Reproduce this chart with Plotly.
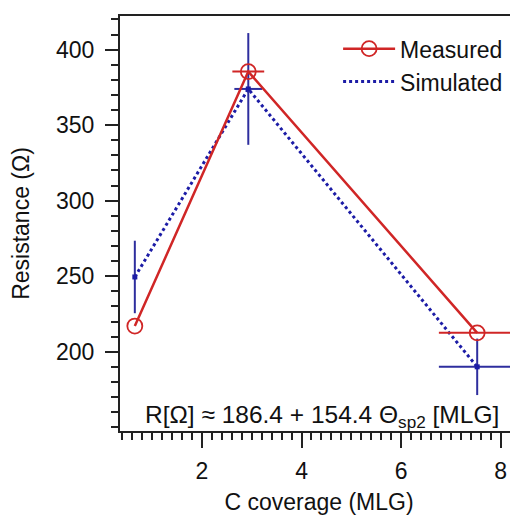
import plotly.graph_objects as go

# Data
coverage = [0.65, 2.93, 7.53]
measured = [217.0, 385.5, 212.5]
measured_xerr = [0.0, 0.32, 0.77]
sim_coverage = [0.65, 2.93, 7.53]
simulated = [249.5, 374.0, 190.0]
sim_xerr = [0.0, 0.28, 0.77]
sim_yerr = [24.0, 37.0, 18.7]

x_major = [2, 4, 6, 8]
x_medium = [1, 3, 5, 7]
y_major = [200, 250, 300, 350, 400]

RED = "#d02626"
BLUE_LINE = "#1c1ca6"
BLUE_ERR = "#2e2e9e"
AX = "#222222"
FONT = "Liberation Sans, Arial, sans-serif"

xr = [0.352, 8.35]
yr = [147.5, 422.3]

fig = go.Figure()

# Simulated: dotted line (legend entry)
fig.add_trace(go.Scatter(
    x=sim_coverage, y=simulated, mode="lines", name="Simulated",
    line=dict(color=BLUE_LINE, width=3, dash="dot"),
))
# Simulated: markers with error bars
fig.add_trace(go.Scatter(
    x=sim_coverage, y=simulated, mode="markers", showlegend=False,
    marker=dict(color=BLUE_LINE, size=5, symbol="square"),
    error_x=dict(type="data", array=sim_xerr, color=BLUE_ERR, thickness=2, width=0),
    error_y=dict(type="data", array=sim_yerr, color=BLUE_ERR, thickness=2, width=0),
))
# Measured
fig.add_trace(go.Scatter(
    x=coverage, y=measured, mode="lines+markers", name="Measured",
    line=dict(color=RED, width=2.5),
    marker=dict(symbol="circle-open", size=15, color=RED, line=dict(width=1.8, color=RED)),
    error_x=dict(type="data", array=measured_xerr, color=RED, thickness=2, width=0),
))

fig.add_annotation(
    x=0.508, y=0.036, xref="paper", yref="paper", xanchor="center", yanchor="middle",
    text="R[Ω] ≈ 186.4 + 154.4 Θ<sub>sp2</sub> [MLG]", showarrow=False,
    font=dict(family=FONT, size=24.5, color="#111111"),
)

fig.update_layout(
    width=510, height=507,
    margin=dict(l=112, r=0, t=8, b=80),
    paper_bgcolor="white", plot_bgcolor="white",
    font=dict(family=FONT, size=23, color="#111111"),
    showlegend=True,
    legend=dict(
        x=0.548, y=0.973, xanchor="left", yanchor="top",
        bgcolor="rgba(0,0,0,0)", traceorder="reversed",
        font=dict(family=FONT, size=23), itemwidth=52,
        tracegroupgap=0,
    ),
    xaxis=dict(
        range=xr, showgrid=False, zeroline=False,
        showline=True, linecolor=AX, linewidth=2, mirror=True,
        tickmode="array", tickvals=x_major, ticks="outside", ticklen=15,
        tickwidth=2, tickcolor=AX, ticklabelstandoff=3,
        minor=dict(dtick=0.2, tick0=0, ticks="outside", ticklen=7, tickwidth=2, tickcolor=AX, showgrid=False),
        title=dict(text="C coverage (MLG)", standoff=15, font=dict(size=23)),
        tickfont=dict(size=23),
    ),
    xaxis2=dict(
        range=xr, overlaying="x", anchor="y", side="bottom",
        showgrid=False, zeroline=False, showline=False,
        tickmode="array", tickvals=x_medium, ticks="outside", ticklen=11,
        tickwidth=2, tickcolor=AX, showticklabels=False,
    ),
    yaxis=dict(
        range=yr, showgrid=False, zeroline=False,
        showline=True, linecolor=AX, linewidth=2,
        tickmode="array", tickvals=y_major, ticks="outside", ticklen=13,
        tickwidth=2, tickcolor=AX, ticklabelstandoff=6,
        minor=dict(dtick=10, tick0=0, ticks="outside", ticklen=7, tickwidth=2, tickcolor=AX, showgrid=False),
        title=dict(text="Resistance (Ω)", standoff=26, font=dict(size=23)),
        tickfont=dict(size=23),
    ),
)

fig.write_html("out.html")
